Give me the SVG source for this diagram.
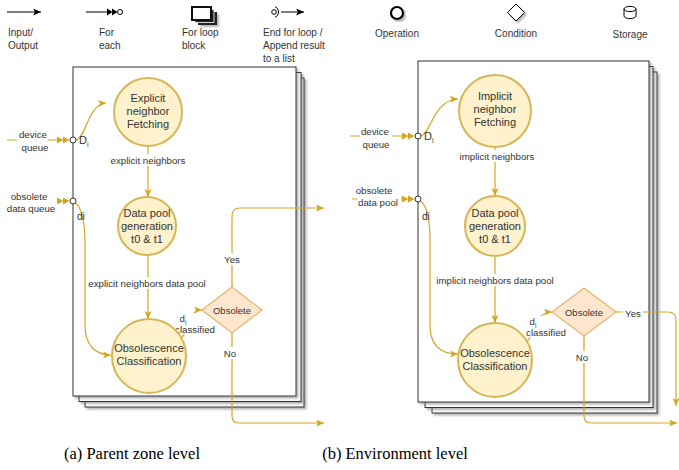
<svg xmlns="http://www.w3.org/2000/svg" width="679" height="470" viewBox="0 0 679 470">
<style>
text{font-family:"Liberation Sans",Arial,sans-serif;fill:#333}
.leg{font-size:10px}
.node{font-size:11px;text-anchor:middle}
.lbl{font-size:9.7px;text-anchor:middle}
.dia{font-size:9.5px;text-anchor:middle}
.cap{font-family:"Liberation Serif","Times New Roman",serif;font-size:16.5px;fill:#000;text-anchor:middle}
.frame{fill:#fff;stroke:#333;stroke-width:1}
.op{fill:#fff2cc;stroke:#d6b656;stroke-width:2}
.cond{fill:#ffe6cc;stroke:#e3b56f;stroke-width:1.2}
.wire{fill:none;stroke:#d6a520;stroke-width:1.2}
.bg{fill:#fff}
.port{fill:#fff;stroke:#333;stroke-width:1}
.dbl{fill:#d6a520}
</style>
<defs>
<marker id="arr" markerUnits="userSpaceOnUse" markerWidth="9" markerHeight="8" refX="8" refY="3.5" orient="auto">
<path d="M0,0 L8,3.5 L0,7 L2,3.5 z" fill="#d6a520"/>
</marker>
<marker id="arrK" markerUnits="userSpaceOnUse" markerWidth="9" markerHeight="8" refX="8" refY="3.5" orient="auto">
<path d="M0,0 L8,3.5 L0,7 L2,3.5 z" fill="#000"/>
</marker>
<filter id="sh" x="-10%" y="-10%" width="130%" height="130%">
<feDropShadow dx="2" dy="2" stdDeviation="1" flood-color="#666" flood-opacity="0.5"/>
</filter>
</defs>

<!-- Legend -->
<g id="legend">
<g id="leg-io">
<line x1="7" y1="12" x2="41" y2="12" stroke="#000" stroke-width="1" marker-end="url(#arrK)"/>
<text class="leg" x="8" y="36">Input/</text>
<text class="leg" x="8" y="49">Output</text>
</g>
<g id="leg-foreach">
<line x1="86" y1="12" x2="108" y2="12" stroke="#000" stroke-width="1"/>
<polygon points="107,8.5 112.5,12 107,15.5" fill="#000"/>
<polygon points="112,8.5 117.5,12 112,15.5" fill="#000"/>
<circle cx="120" cy="12" r="2.5" fill="#fff" stroke="#000" stroke-width="1"/>
<text class="leg" x="99" y="36">For</text>
<text class="leg" x="99" y="49">each</text>
</g>
<g id="leg-loop">
<rect x="198" y="12" width="19" height="13" fill="#222" filter="url(#sh)"/>
<rect x="195" y="9.5" width="19" height="13" fill="#222" stroke="#fff" stroke-width="0.8"/>
<rect x="192" y="7" width="19" height="13" fill="#fff" stroke="#111" stroke-width="2"/>
<text class="leg" x="182" y="36">For loop</text>
<text class="leg" x="182" y="49">block</text>
</g>
<g id="leg-end">
<circle cx="274" cy="12" r="2.3" fill="#fff" stroke="#000" stroke-width="1"/>
<path d="M275,6.5 A6,6 0 0 1 275,17.5" fill="none" stroke="#000" stroke-width="1"/>
<line x1="281" y1="12" x2="304" y2="12" stroke="#000" stroke-width="1" marker-end="url(#arrK)"/>
<text class="leg" x="263" y="36">End for loop /</text>
<text class="leg" x="263" y="49">Append result</text>
<text class="leg" x="263" y="62">to a list</text>
</g>
<g id="leg-op">
<circle cx="397" cy="13" r="6" fill="#fff" stroke="#000" stroke-width="2.2" filter="url(#sh)"/>
<text class="leg" x="397" y="37" text-anchor="middle">Operation</text>
</g>
<g id="leg-cond">
<polygon points="516,4 524.5,12.5 516,21 507.5,12.5" fill="#fff" stroke="#000" stroke-width="1" filter="url(#sh)"/>
<text class="leg" x="516" y="37" text-anchor="middle">Condition</text>
</g>
<g id="leg-store">
<path d="M624,9 A6,2.6 0 0 1 636,9 L636,16 A6,2.6 0 0 1 624,16 Z" fill="#fff" stroke="#000" stroke-width="1"/>
<path d="M624,9 A6,2.6 0 0 0 636,9" fill="none" stroke="#000" stroke-width="1"/>
<text class="leg" x="630" y="38" text-anchor="middle">Storage</text>
</g>
</g>

<!-- Panel (a) frames -->
<g id="frameA">
<rect class="frame" x="85" y="78" width="219" height="329" filter="url(#sh)"/>
<rect class="frame" x="79" y="72.5" width="222" height="329" filter="url(#sh)"/>
<rect class="frame" x="73" y="67" width="223" height="329" filter="url(#sh)"/>
</g>
<!-- Panel (b) frames -->
<g id="frameB">
<rect class="frame" x="432" y="72" width="225" height="341" filter="url(#sh)"/>
<rect class="frame" x="425" y="66.5" width="228" height="341" filter="url(#sh)"/>
<rect class="frame" x="418" y="61" width="231" height="341" filter="url(#sh)"/>
</g>

<!-- Connectors -->
<g id="connectors">
<!-- panel a -->
<line class="wire" x1="7" y1="140" x2="57" y2="140"/>
<path class="wire" d="M76,140 C86,138 88,104 106,103" marker-end="url(#arr)" style="stroke-dasharray:none"/>
<path class="wire" d="M75.5,203 C82,208 85,225 85,245 L85,325 C85,345 95,355 111,355" marker-end="url(#arr)"/>
<line class="wire" x1="148" y1="146" x2="148" y2="197" marker-end="url(#arr)"/>
<line class="wire" x1="148" y1="255" x2="148" y2="319" marker-end="url(#arr)"/>
<path class="wire" d="M181,338 C190,332 186,310 202,310" marker-end="url(#arr)"/>
<path class="wire" d="M232,287 L232,216 Q232,208 240,208 L324,208" marker-end="url(#arr)"/>
<path class="wire" d="M232,333 L232,416 Q232,423 239,423 L324,423" marker-end="url(#arr)"/>
<!-- panel b -->
<line class="wire" x1="350" y1="136" x2="402" y2="136"/>
<line class="wire" x1="352" y1="199" x2="402" y2="199"/>
<path class="wire" d="M421,136 C431,134 433,100 458,99" marker-end="url(#arr)"/>
<path class="wire" d="M420.5,201 C427,206 430,222 430,240 L430,325 C430,345 440,354 458,354" marker-end="url(#arr)"/>
<line class="wire" x1="495" y1="148" x2="495" y2="196" marker-end="url(#arr)"/>
<line class="wire" x1="495" y1="256" x2="495" y2="323" marker-end="url(#arr)"/>
<path class="wire" d="M527,341 C536,335 533,312 552,312" marker-end="url(#arr)"/>
<path class="wire" d="M616,312 L668,312 Q676,312 676,320 L676,406" marker-end="url(#arr)"/>
<path class="wire" d="M584,336 L584,416 Q584,423 591,423 L677,423" marker-end="url(#arr)"/>
<!-- double arrowheads -->
<polygon class="dbl" points="57,136.5 63.5,140 57,143.5"/>
<polygon class="dbl" points="63,136.5 69.5,140 63,143.5"/>
<polygon class="dbl" points="57,197.5 63.5,201 57,204.5"/>
<polygon class="dbl" points="63,197.5 69.5,201 63,204.5"/>
<polygon class="dbl" points="402,132.5 408.5,136 402,139.5"/>
<polygon class="dbl" points="408,132.5 414.5,136 408,139.5"/>
<polygon class="dbl" points="402,195.5 408.5,199 402,202.5"/>
<polygon class="dbl" points="408,195.5 414.5,199 408,202.5"/>
</g>

<!-- Ports and input labels -->
<g id="portsA">
<rect class="bg" x="17" y="128" width="31" height="24"/>
<text class="lbl" x="33" y="138">device</text>
<text class="lbl" x="35" y="151">queue</text>
<circle class="port" cx="73" cy="140" r="3"/>
<text class="lbl" x="29" y="200">obsolete</text>
<text class="lbl" x="31" y="212">data queue</text>
<circle class="port" cx="73" cy="201" r="3"/>
<text x="79" y="144" font-size="11">D<tspan font-size="7" dy="3">i</tspan></text>
<text x="77" y="220" font-size="10">di</text>
</g>
<g id="portsB">
<rect class="bg" x="360" y="124" width="32" height="24"/>
<text class="lbl" x="375" y="135">device</text>
<text class="lbl" x="376" y="148">queue</text>
<circle class="port" cx="418" cy="136" r="3"/>
<rect class="bg" x="357" y="183" width="44" height="24"/>
<text class="lbl" x="374" y="194">obsolete</text>
<text class="lbl" x="378" y="206">data pool</text>
<circle class="port" cx="418" cy="199" r="3"/>
<text x="424" y="140" font-size="11">D<tspan font-size="7" dy="3">i</tspan></text>
<text x="422" y="220" font-size="10">di</text>
</g>

<!-- Edge labels -->
<g id="edge-labels">
<rect class="bg" x="109" y="154" width="77" height="12"/>
<text class="lbl" x="148" y="164">explicit neighbors</text>
<rect class="bg" x="86" y="277" width="122" height="12"/>
<text class="lbl" x="147" y="287">explicit neighbors data pool</text>
<rect class="bg" x="176" y="313" width="40" height="21"/>
<text class="lbl" x="183" y="322">d<tspan font-size="6.5" dy="2.5">i</tspan></text>
<text class="lbl" x="195" y="333">classified</text>
<rect class="bg" x="222" y="253" width="20" height="12"/>
<text class="lbl" x="232" y="263">Yes</text>
<rect class="bg" x="223" y="347" width="16" height="12"/>
<text class="lbl" x="230" y="357">No</text>

<rect class="bg" x="457" y="150" width="80" height="12"/>
<text class="lbl" x="497" y="160">implicit neighbors</text>
<rect class="bg" x="433" y="274" width="124" height="12"/>
<text class="lbl" x="495" y="284">implicit neighbors data pool</text>
<rect class="bg" x="526" y="316" width="42" height="21"/>
<text class="lbl" x="533" y="325">d<tspan font-size="6.5" dy="2.5">i</tspan></text>
<text class="lbl" x="546" y="336">classified</text>
<rect class="bg" x="623" y="307" width="20" height="12"/>
<text class="lbl" x="633" y="317">Yes</text>
<rect class="bg" x="575" y="351" width="16" height="12"/>
<text class="lbl" x="582" y="361">No</text>
</g>

<!-- Panel (a) nodes -->
<g id="a-fetch">
<circle class="op" cx="148" cy="112" r="34"/>
<text class="node" x="148" y="102">Explicit</text>
<text class="node" x="148" y="115">neighbor</text>
<text class="node" x="148" y="128">Fetching</text>
</g>
<g id="a-pool">
<circle class="op" cx="147" cy="226" r="29"/>
<text class="node" x="147" y="217">Data pool</text>
<text class="node" x="147" y="230">generation</text>
<text class="node" x="147" y="243">t0 &amp; t1</text>
</g>
<g id="a-class">
<circle class="op" cx="149" cy="356" r="37"/>
<text class="node" x="149" y="352">Obsolescence</text>
<text class="node" x="149" y="365">Classification</text>
</g>
<g id="a-obsolete">
<polygon class="cond" points="232,287 262,310 232,333 202,310"/>
<text class="dia" x="232" y="313.5">Obsolete</text>
</g>

<!-- Panel (b) nodes -->
<g id="b-fetch">
<circle class="op" cx="495" cy="111" r="36"/>
<text class="node" x="495" y="100">Implicit</text>
<text class="node" x="495" y="113">neighbor</text>
<text class="node" x="495" y="126">Fetching</text>
</g>
<g id="b-pool">
<circle class="op" cx="495" cy="226" r="30"/>
<text class="node" x="495" y="217">Data pool</text>
<text class="node" x="495" y="230">generation</text>
<text class="node" x="495" y="243">t0 &amp; t1</text>
</g>
<g id="b-class">
<circle class="op" cx="495" cy="360" r="37"/>
<text class="node" x="495" y="357">Obsolescence</text>
<text class="node" x="495" y="370">Classification</text>
</g>
<g id="b-obsolete">
<polygon class="cond" points="584,288 616,312 584,336 552,312"/>
<text class="dia" x="584" y="315.5">Obsolete</text>
</g>

<!-- Captions -->
<text class="cap" x="132" y="459">(a) Parent zone level</text>
<text class="cap" x="395" y="459">(b) Environment level</text>
</svg>
